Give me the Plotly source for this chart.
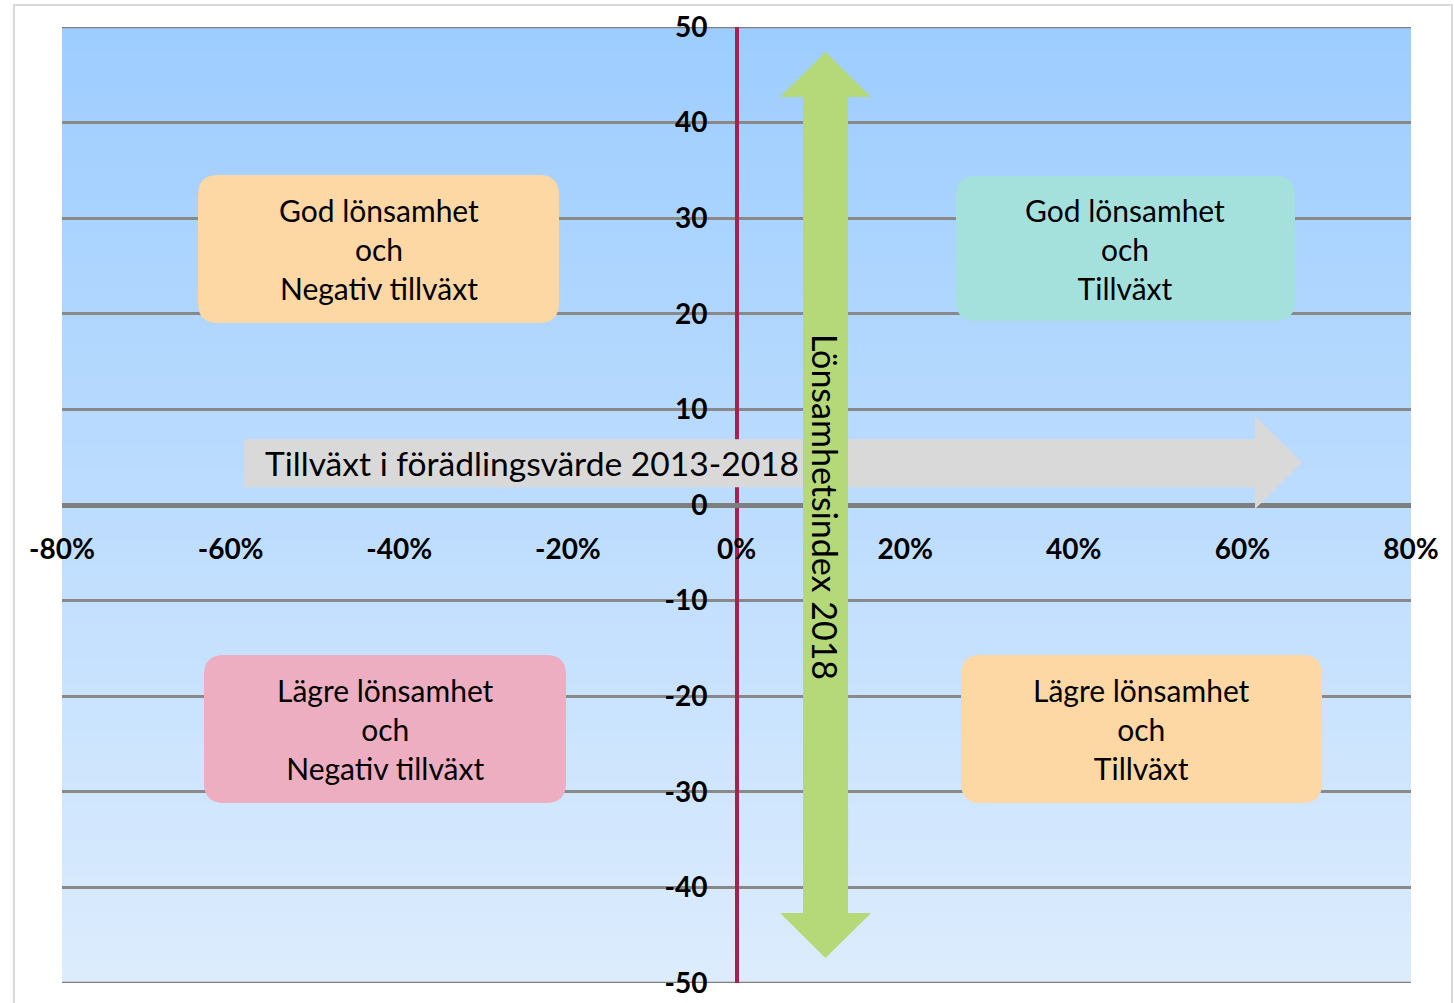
import plotly.graph_objects as go

# ---------------- data ----------------
x_tickvals = [-0.8, -0.6, -0.4, -0.2, 0.0, 0.2, 0.4, 0.6, 0.8]
x_ticktext = ["-80%", "-60%", "-40%", "-20%", "0%", "20%", "40%", "60%", "80%"]
y_tickvals = [-50, -40, -30, -20, -10, 0, 10, 20, 30, 40, 50]
y_ticktext = ["-50", "-40", "-30", "-20", "-10", "0", "10", "20", "30", "40", "50"]

x_range = [-0.8, 0.8]
y_range = [-50, 50]

quadrant_labels = [
    "God lönsamhet<br>och<br>Negativ tillväxt",
    "God lönsamhet<br>och<br>Tillväxt",
    "Lägre lönsamhet<br>och<br>Negativ tillväxt",
    "Lägre lönsamhet<br>och<br>Tillväxt",
]
quadrant_colors = ["#fdd7a4", "#a4e1dd", "#edaec1", "#fdd7a4"]
# box extents (x0, x1, y0, y1) in axis units
quadrant_boxes = [
    (-0.6387, -0.2105, 19.04, 34.52),
    (0.2603, 0.6624, 19.25, 34.41),
    (-0.6316, -0.2022, -31.17, -15.69),
    (0.2663, 0.6945, -31.17, -15.69),
]

x_title = "Tillväxt i förädlingsvärde 2013-2018"
y_title = "Lönsamhetsindex 2018"

FONT = "Lato"

fig = go.Figure()

# invisible trace to establish axes
fig.add_trace(go.Scatter(x=x_range, y=y_range, mode="markers",
                         marker=dict(opacity=0), hoverinfo="skip", showlegend=False))

shapes = []

# gradient background
n_bands = 80
top_rgb = (157, 205, 255)
bot_rgb = (220, 236, 253)
for i in range(n_bands):
    t = i / (n_bands - 1)
    r = round(top_rgb[0] + (bot_rgb[0] - top_rgb[0]) * t)
    g = round(top_rgb[1] + (bot_rgb[1] - top_rgb[1]) * t)
    b = round(top_rgb[2] + (bot_rgb[2] - top_rgb[2]) * t)
    y1 = 1 - i / n_bands
    y0 = 1 - (i + 1) / n_bands - 0.002
    shapes.append(dict(type="rect", xref="paper", yref="paper", x0=0, x1=1,
                       y0=max(y0, 0), y1=y1, fillcolor=f"rgb({r},{g},{b})",
                       line=dict(width=0), layer="below"))

# border gridlines at range ends
for yv in y_range:
    shapes.append(dict(type="line", xref="paper", yref="y", x0=0, x1=1, y0=yv, y1=yv,
                       line=dict(color="#7f7f7f", width=2.5), layer="below"))

# outer frame
shapes.append(dict(type="rect", xref="paper", yref="paper", x0=-0.0356, x1=1.0304,
                   y0=-0.05, y1=1.023, line=dict(color="#d9d9d9", width=2),
                   fillcolor="rgba(0,0,0,0)", layer="below"))

# gray right arrow (x direction)
ax_x0, ax_xb, ax_tip = -0.584, 0.615, 0.6707
ax_s0, ax_s1 = 1.85, 6.87
ax_h0, ax_h1 = -0.42, 9.31
ax_c = (ax_h0 + ax_h1) / 2
path_h = (f"M {ax_x0},{ax_s0} L {ax_xb},{ax_s0} L {ax_xb},{ax_h0} L {ax_tip},{ax_c} "
          f"L {ax_xb},{ax_h1} L {ax_xb},{ax_s1} L {ax_x0},{ax_s1} Z")
shapes.append(dict(type="path", xref="x", yref="y", path=path_h,
                   fillcolor="#d9d9d9", line=dict(width=0), layer="above"))

# green double arrow (y direction)
cx = 0.1056
sw = 0.02669
hw = 0.05397
tip, hb = 47.38, 42.68
path_v = (f"M {cx},{tip} L {cx+hw},{hb} L {cx+sw},{hb} L {cx+sw},{-hb} L {cx+hw},{-hb} "
          f"L {cx},{-tip} L {cx-hw},{-hb} L {cx-sw},{-hb} L {cx-sw},{hb} L {cx-hw},{hb} Z")
shapes.append(dict(type="path", xref="x", yref="y", path=path_v,
                   fillcolor="#b5d878", line=dict(width=0), layer="above"))

# rounded quadrant boxes
rx, ry = 0.0237, 2.09
annotations = []
for (x0, x1, y0, y1), col, lab in zip(quadrant_boxes, quadrant_colors, quadrant_labels):
    p = (f"M {x0+rx},{y1} L {x1-rx},{y1} Q {x1},{y1} {x1},{y1-ry} "
         f"L {x1},{y0+ry} Q {x1},{y0} {x1-rx},{y0} "
         f"L {x0+rx},{y0} Q {x0},{y0} {x0},{y0+ry} "
         f"L {x0},{y1-ry} Q {x0},{y1} {x0+rx},{y1} Z")
    shapes.append(dict(type="path", xref="x", yref="y", path=p, fillcolor=col,
                       line=dict(width=0), layer="above"))
    annotations.append(dict(x=(x0 + x1) / 2, y=(y0 + y1) / 2, xref="x", yref="y",
                            text=lab, showarrow=False, align="center",
                            font=dict(family=FONT, size=30, color="black")))

annotations.append(dict(x=-0.5616, y=ax_c, xref="x", yref="y", text=x_title,
                        showarrow=False, xanchor="left", yanchor="middle",
                        font=dict(family=FONT, size=33.6, color="black")))
annotations.append(dict(x=cx, y=-0.15, xref="x", yref="y", text=y_title,
                        showarrow=False, textangle=90, xanchor="center", yanchor="middle",
                        font=dict(family=FONT, size=34, color="black")))

fig.update_layout(
    width=1454, height=1003, autosize=False,
    margin=dict(l=62, r=43, t=27, b=20, pad=0),
    paper_bgcolor="white", plot_bgcolor="rgba(0,0,0,0)",
    showlegend=False,
    shapes=shapes, annotations=annotations,
    xaxis=dict(range=x_range, tickvals=x_tickvals, ticktext=x_ticktext,
               showgrid=False, zeroline=True, zerolinecolor="#a8214e", zerolinewidth=4,
               showline=False, ticks="", anchor="free", position=0.5,
               ticklabelstandoff=25, automargin=False,
               tickfont=dict(family=FONT, size=28, color="black", weight="bold")),
    yaxis=dict(range=y_range, tickvals=y_tickvals, ticktext=y_ticktext,
               showgrid=True, gridcolor="#898989", gridwidth=2.5,
               zeroline=True, zerolinecolor="#7f7f7f", zerolinewidth=5,
               showline=False, ticks="", anchor="free", position=0.5,
               ticklabelstandoff=29, automargin=False,
               tickfont=dict(family=FONT, size=28, color="black", weight="bold")),
)

fig.write_html(
    "out.html",
    config={"displayModeBar": False},
    post_script="document.body.style.margin='0px';document.body.style.overflow='hidden';",
)
